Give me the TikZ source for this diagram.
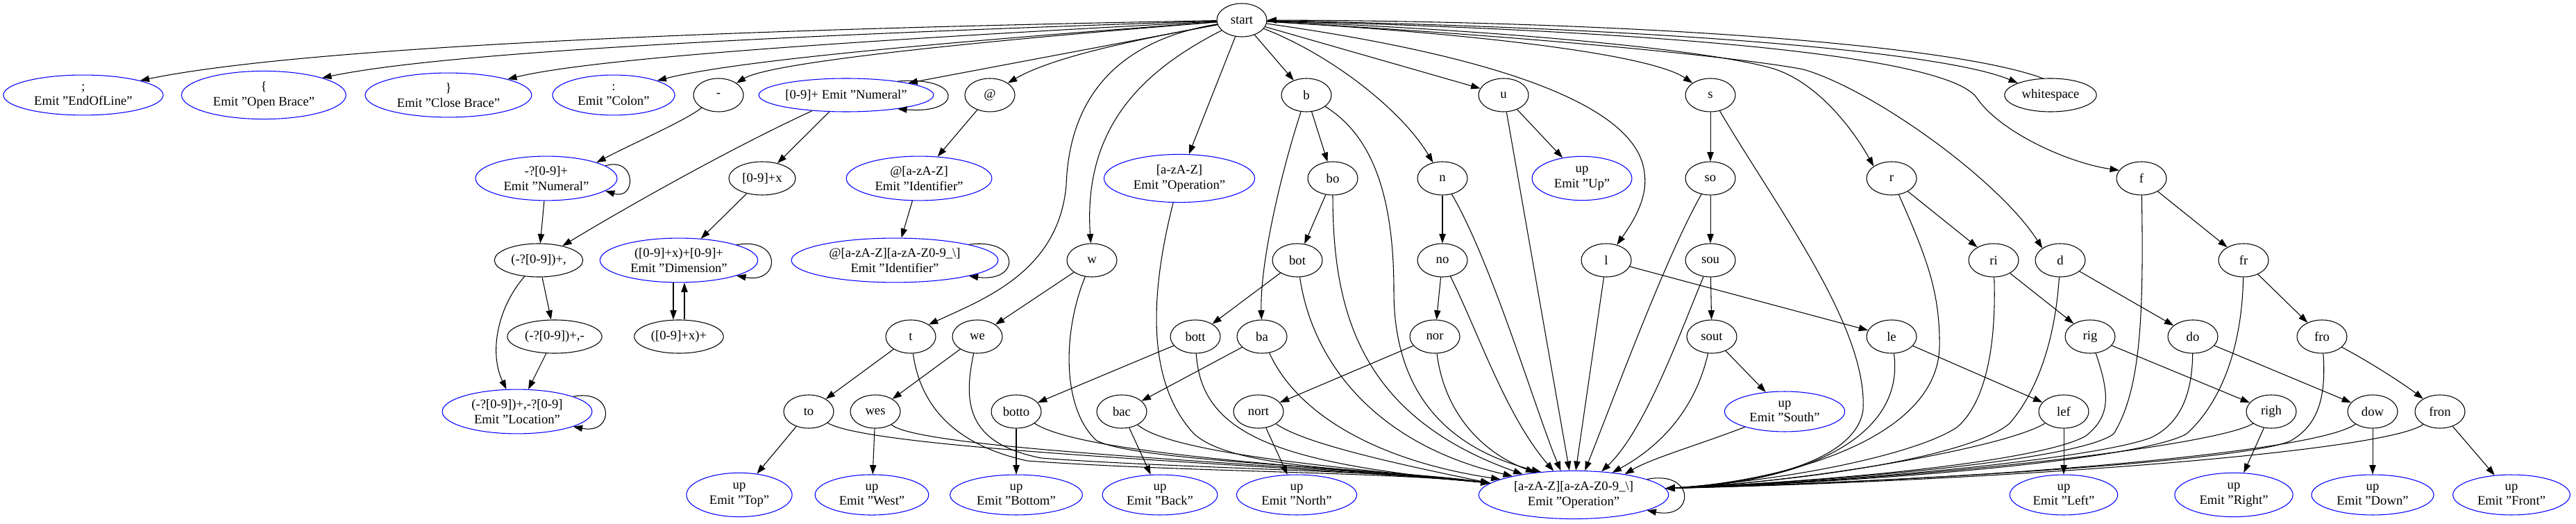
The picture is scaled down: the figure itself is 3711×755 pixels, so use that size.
\documentclass[tikz,border=0pt]{standalone}
\usepackage{fontspec}
\setmainfont{Liberation Serif}
\usepackage{tikz}
\usetikzlibrary{shapes.geometric, arrows.meta}

\begin{document}
\begin{tikzpicture}[
  x=0.75pt, y=-0.75pt,
  font=\fontsize{14}{16}\selectfont,
  partial/.style ={ellipse, draw, line width=0.8pt,
                   minimum width=54pt, minimum height=36pt,
                   inner xsep=4pt, inner ysep=4pt, align=center},
  emit/.style    ={partial, draw=blue, inner xsep=8pt},
  trans/.style   ={-{Triangle[length=10pt, width=7pt]}, line width=0.8pt}
]
\useasboundingbox (0,0) rectangle (3711,755);

% ---------- Rank 0 ----------
\node[partial] (start)  at (1789,29)  {start};

% ---------- Rank 1 ----------
\node[emit]    (eol)    at (120,137)  {;\\Emit "EndOfLine"};
\node[emit]    (obr)    at (380,137)  {\{\\Emit "Open Brace"};
\node[emit]    (cbr)    at (646,137)  {\}\\Emit "Close Brace"};
\node[emit]    (colon)  at (884,137)  {:\\Emit "Colon"};
\node[partial] (minus)  at (1035,137) {-};
\node[emit, inner xsep=1pt] (num) at (1219,137) {[0-9]+ Emit "Numeral"};
\node[partial] (atsign) at (1426,137) {@};
\node[partial] (kb)     at (1882,137) {b};
\node[partial] (ku)     at (2166,137) {u};
\node[partial] (ks)     at (2464,137) {s};
\node[partial] (ws)     at (2954,137) {whitespace};

% ---------- Rank 2 ----------
\node[emit]    (snum)   at (787,257)  {-?[0-9]+\\Emit "Numeral"};
\node[partial] (numx)   at (1098,257) {[0-9]+x};
\node[emit]    (ida)    at (1324,257) {@[a-zA-Z]\\Emit "Identifier"};
\node[emit]    (opa)    at (1699,257) {[a-zA-Z]\\Emit "Operation"};
\node[partial] (kbo)    at (1920,257) {bo};
\node[partial] (kn)     at (2078,257) {n};
\node[emit]    (eUp)    at (2279,257) {up\\Emit "Up"};
\node[partial] (kso)    at (2464,257) {so};
\node[partial] (kr)     at (2725,257) {r};
\node[partial] (kf)     at (3085,257) {f};

% ---------- Rank 3 ----------
\node[partial] (loc1)   at (776,375)  {(-?[0-9])+,};
\node[emit]    (dim)    at (978,375)  {([0-9]+x)+[0-9]+\\Emit "Dimension"};
\node[emit]    (idb)    at (1289,375) {@[a-zA-Z][a-zA-Z0-9\_\textbackslash]\\Emit "Identifier"};
\node[partial] (kw)     at (1573,375) {w};
\node[partial] (kbot)   at (1869,375) {bot};
\node[partial] (kno)    at (2078,375) {no};
\node[partial] (kl)     at (2314,375) {l};
\node[partial] (ksou)   at (2464,375) {sou};
\node[partial] (kri)    at (2872,375) {ri};
\node[partial] (kd)     at (2968,375) {d};
\node[partial] (kfr)    at (3232,375) {fr};

% ---------- Rank 4 ----------
\node[partial] (loc2)   at (799,485)  {(-?[0-9])+,-};
\node[partial] (dimx)   at (978,485)  {([0-9]+x)+};
\node[partial] (kt)     at (1312,485) {t};
\node[partial] (kwe)    at (1408,485) {we};
\node[partial] (kbott)  at (1722,485) {bott};
\node[partial] (kba)    at (1818,485) {ba};
\node[partial] (knor)   at (2067,485) {nor};
\node[partial] (ksout)  at (2466,485) {sout};
\node[partial] (kle)    at (2725,485) {le};
\node[partial] (krig)   at (3011,485) {rig};
\node[partial] (kdo)    at (3159,485) {do};
\node[partial] (kfro)   at (3345,485) {fro};

% ---------- Rank 5 ----------
\node[emit]    (loc)    at (745,593)  {(-?[0-9])+,-?[0-9]\\Emit "Location"};
\node[partial] (kto)    at (1165,593) {to};
\node[partial] (kwes)   at (1261,593) {wes};
\node[partial] (kbotto) at (1464,593) {botto};
\node[partial] (kbac)   at (1616,593) {bac};
\node[partial] (knort)  at (1813,593) {nort};
\node[emit]    (eSouth) at (2571,593) {up\\Emit "South"};
\node[partial] (klef)   at (2973,593) {lef};
\node[partial] (krigh)  at (3272,593) {righ};
\node[partial] (kdow)   at (3418,593) {dow};
\node[partial] (kfron)  at (3515,593) {fron};

% ---------- Rank 6 ----------
\node[emit]    (eTop)    at (1065,713) {up\\Emit "Top"};
\node[emit]    (eWest)   at (1256,713) {up\\Emit "West"};
\node[emit]    (eBottom) at (1464,713) {up\\Emit "Bottom"};
\node[emit]    (eBack)   at (1671,713) {up\\Emit "Back"};
\node[emit]    (eNorth)  at (1868,713) {up\\Emit "North"};
\node[emit]    (op)      at (2267,713) {[a-zA-Z][a-zA-Z0-9\_\textbackslash]\\Emit "Operation"};
\node[emit]    (eLeft)   at (2973,713) {up\\Emit "Left"};
\node[emit]    (eRight)  at (3218,713) {up\\Emit "Right"};
\node[emit]    (eDown)   at (3418,713) {up\\Emit "Down"};
\node[emit]    (eFront)  at (3618,713) {up\\Emit "Front"};

% ---------- Out of start ----------
\draw[trans] (start) .. controls (900,45) and (400,75) .. (eol.north east);
\draw[trans] (start) .. controls (1000,55) and (620,80) .. (obr.north east);
\draw[trans] (start) .. controls (1200,60) and (850,85) .. (cbr.north east);
\draw[trans] (start) .. controls (1300,65) and (1050,90) .. (colon.north east);
\draw[trans] (start) .. controls (1400,60) and (1110,90) .. (minus.north east);
\draw[trans] (start) -- (num.north east);
\draw[trans] (start) .. controls (1650,55) and (1520,80) .. (atsign.north east);
\draw[trans] (start) .. controls (1600,60) and (1540,150) .. (1536,267)
                     .. controls (1525,390) and (1420,430) .. (kt.north east);
\draw[trans] (start) .. controls (1650,100) and (1560,180) .. (kw);
\draw[trans] (start) -- (opa);
\draw[trans] (start) -- (kb);
\draw[trans] (start) .. controls (1920,80) and (2020,160) .. (kn);
\draw[trans] (start) -- (ku);
\draw[trans] (start) .. controls (2150,80) and (2360,150) .. (2369,250)
                     .. controls (2375,290) and (2345,330) .. (kl);
\draw[trans] (start) .. controls (2150,50) and (2380,80) .. (ks.north west);
\draw[trans] (start) .. controls (2200,45) and (2480,75) .. (2558,100)
                     .. controls (2630,125) and (2680,205) .. (kr.north west);
\draw[trans] (start) .. controls (2250,55) and (2520,85) .. (2598,100)
                     .. controls (2700,130) and (2880,260) .. (kd.north west);
\draw[trans] (start) .. controls (2400,45) and (2800,80) .. (2847,140)
                     .. controls (2880,190) and (2980,235) .. (kf.160);
\draw[trans] (start) .. controls (2400,40) and (2800,75) .. (ws.north west);
\draw[trans] (ws.115) .. controls (2800,60) and (2300,30) .. (start);

% ---------- Numbers, identifiers ----------
\draw[trans] (minus) .. controls (985,175) and (915,205) .. (snum.north east);
\draw[trans] (snum.12) .. controls +(45,-14) and +(45,14) .. (snum.-12);
\draw[trans] (snum) -- (loc1);
\draw[trans] (num) .. controls (1050,215) and (900,300) .. (loc1);
\draw[trans] (num) -- (numx);
\draw[trans] (num.15) .. controls +(95,-8) and +(95,8) .. (num.-15);
\draw[trans] (numx) -- (dim);
\draw[trans] (dim.15) .. controls +(65,-12) and +(65,12) .. (dim.-15);
\draw[trans] ([xshift=-6pt]dim.south) -- ([xshift=-6pt]dimx.north);
\draw[trans] ([xshift=6pt]dimx.north) -- ([xshift=6pt]dim.south);
\draw[trans] (loc1) -- (loc2);
\draw[trans] (loc1) .. controls (715,445) and (705,510) .. (loc);
\draw[trans] (loc2) -- (loc);
\draw[trans] (loc.15) .. controls +(60,-12) and +(60,12) .. (loc.-15);
\draw[trans] (atsign) -- (ida);
\draw[trans] (ida) -- (idb);
\draw[trans] (idb.12) .. controls +(75,-10) and +(75,10) .. (idb.-12);

% ---------- Keyword chains ----------
\draw[trans] (kt) -- (kto);
\draw[trans] (kto) -- (eTop);
\draw[trans] (kw) -- (kwe);
\draw[trans] (kwe) -- (kwes);
\draw[trans] (kwes) -- (eWest);
\draw[trans] (kb) -- (kbo);
\draw[trans] (kb) .. controls (1845,250) and (1815,380) .. (kba);
\draw[trans] (kbo) -- (kbot);
\draw[trans] (kbot) -- (kbott);
\draw[trans] (kbott) -- (kbotto);
\draw[trans] (kbotto) -- (eBottom);
\draw[trans] (kba) -- (kbac);
\draw[trans] (kbac) -- (eBack);
\draw[trans] (kn) -- (kno);
\draw[trans] (kno) -- (knor);
\draw[trans] (knor) -- (knort);
\draw[trans] (knort) -- (eNorth);
\draw[trans] (ku) -- (eUp);
\draw[trans] (kl) -- (kle);
\draw[trans] (kle) -- (klef);
\draw[trans] (klef) -- (eLeft);
\draw[trans] (ks) -- (kso);
\draw[trans] (kso) -- (ksou);
\draw[trans] (ksou) -- (ksout);
\draw[trans] (ksout) -- (eSouth);
\draw[trans] (kr) -- (kri);
\draw[trans] (kri) -- (krig);
\draw[trans] (krig) -- (krigh);
\draw[trans] (krigh) -- (eRight);
\draw[trans] (kd) -- (kdo);
\draw[trans] (kdo) -- (kdow);
\draw[trans] (kdow) -- (eDown);
\draw[trans] (kf) -- (kfr);
\draw[trans] (kfr) -- (kfro);
\draw[trans] (kfro) .. controls (3420,525) and (3465,555) .. (kfron);
\draw[trans] (kfron) -- (eFront);

% ---------- Into Operation, from the left ----------
\draw[trans] (kto) .. controls (1260,650) and (1900,672) .. (op.172);
\draw[trans] (kwes) .. controls (1330,650) and (1900,670) .. (op.172);
\draw[trans] (kt) .. controls (1325,580) and (1370,640) .. (1480,664)
                  .. controls (1700,680) and (2000,680) .. (op.172);
\draw[trans] (kwe) .. controls (1385,590) and (1400,640) .. (1500,660)
                   .. controls (1700,675) and (2000,678) .. (op.172);
\draw[trans] (kw) .. controls (1530,480) and (1530,590) .. (1580,635)
                  .. controls (1640,665) and (1950,672) .. (op.172);
\draw[trans] (kbotto) .. controls (1560,655) and (1900,672) .. (op.172);
\draw[trans] (kbac) .. controls (1690,655) and (1950,675) .. (op.172);
\draw[trans] (opa) .. controls (1650,450) and (1660,560) .. (1720,625)
                   .. controls (1780,680) and (2000,675) .. (op.172);
\draw[trans] (kbott) .. controls (1730,630) and (1850,668) .. (op.172);
\draw[trans] (knort) .. controls (1880,640) and (2020,670) .. (op.172);
\draw[trans] (kba) .. controls (1870,600) and (1990,665) .. (op.168);
\draw[trans] (kbot) .. controls (1890,520) and (1980,640) .. (op.163);
\draw[trans] (kbo) .. controls (1920,450) and (1960,600) .. (op.158);
\draw[trans] (knor) .. controls (2080,590) and (2130,650) .. (op.150);
\draw[trans] (kb) .. controls (1985,200) and (2008,300) .. (2008,420)
                  .. controls (2008,580) and (2100,650) .. (op.145);
\draw[trans] (kno) .. controls (2130,480) and (2170,600) .. (op.130);
\draw[trans] (kn) .. controls (2150,380) and (2215,600) .. (op.118);
\draw[trans] (ku) -- (op.100);
\draw[trans] (kl) -- (op.85);
\draw[trans] (kso) .. controls (2400,370) and (2330,560) .. (op.65);
\draw[trans] (ksou) .. controls (2420,480) and (2370,620) .. (op.40);
\draw[trans] (ksout) .. controls (2440,600) and (2380,650) .. (op.30);
\draw[trans] (eSouth) .. controls (2450,640) and (2380,660) .. (op.22);

% ---------- Into Operation, from the right ----------
\draw[trans] (ks) .. controls (2560,300) and (2690,470) .. (2684,590)
                  .. controls (2675,660) and (2550,695) .. (op.4);
\draw[trans] (kle) .. controls (2745,630) and (2600,695) .. (op.4);
\draw[trans] (kr) .. controls (2775,370) and (2795,420) .. (2794,500)
                  .. controls (2790,640) and (2550,695) .. (op.4);
\draw[trans] (kri) .. controls (2876,500) and (2860,580) .. (2820,615)
                   .. controls (2770,650) and (2600,690) .. (op.4);
\draw[trans] (kd) .. controls (2960,500) and (2930,570) .. (2895,610)
                  .. controls (2850,650) and (2650,690) .. (op.4);
\draw[trans] (klef) .. controls (2890,645) and (2600,695) .. (op.4);
\draw[trans] (krig) .. controls (3040,570) and (3040,600) .. (3005,628)
                    .. controls (2950,660) and (2700,690) .. (op.4);
\draw[trans] (kf) .. controls (3088,450) and (3085,560) .. (3045,625)
                  .. controls (3000,660) and (2700,690) .. (op.4);
\draw[trans] (kdo) .. controls (3158,570) and (3140,610) .. (3100,630)
                   .. controls (3040,655) and (2750,690) .. (op.4);
\draw[trans] (kfr) .. controls (3230,500) and (3200,580) .. (3150,625)
                   .. controls (3100,655) and (2800,690) .. (op.4);
\draw[trans] (krigh) .. controls (3200,640) and (2800,690) .. (op.4);
\draw[trans] (kfro) .. controls (3352,580) and (3335,615) .. (3300,635)
                    .. controls (3250,660) and (2850,690) .. (op.4);
\draw[trans] (kdow) .. controls (3340,650) and (2900,690) .. (op.4);
\draw[trans] (kfron) .. controls (3440,650) and (2900,692) .. (op.4);
\draw[trans] (op.12) .. controls +(70,-14) and +(70,14) .. (op.-12);

\end{tikzpicture}
\end{document}
